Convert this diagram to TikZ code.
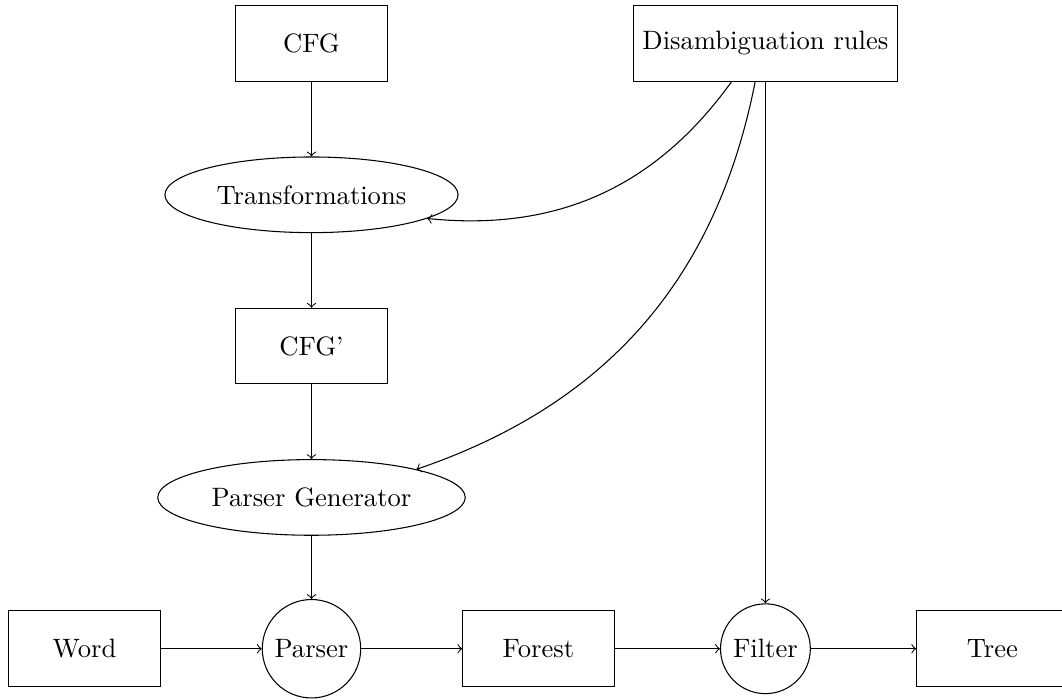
\documentclass[tikz,border=0pt]{standalone}
\usetikzlibrary{shapes.geometric}
\begin{document}
\begin{tikzpicture}[
  box/.style={draw, rectangle, minimum width=2cm, minimum height=1cm},
  proc/.style={draw, ellipse, minimum height=1cm},
  op/.style={draw, circle},
  flow/.style={->}
]
\useasboundingbox (-117.15pt,-18.92pt) rectangle (282.25pt,{8cm+16.36pt});

% main column
\node[box]  (cfg)    at (0,8) {CFG};
\node[proc] (trans)  at (0,6) {Transformations};
\node[box]  (cfgp)   at (0,4) {CFG'};
\node[proc] (pgen)   at (0,2) {Parser Generator};
\node[op]   (parser) at (0,0) {Parser};

% bottom row
\node[box] (word)   at (-3,0) {Word};
\node[box] (forest) at (3,0)  {Forest};
\node[op]  (filter) at (6,0)  {Filter};
\node[box] (tree)   at (9,0)  {Tree};

% rules
\node[box] (rules) at (6,8) {Disambiguation rules};

\draw[flow] (cfg) -- (trans);
\draw[flow] (trans) -- (cfgp);
\draw[flow] (cfgp) -- (pgen);
\draw[flow] (pgen) -- (parser);

\draw[flow] (word) -- (parser);
\draw[flow] (parser) -- (forest);
\draw[flow] (forest) -- (filter);
\draw[flow] (filter) -- (tree);

\draw[flow] (rules) to[bend left=30] (trans);
\draw[flow] (rules) to[bend left=30] (pgen);
\draw[flow] (rules) -- (filter);
\end{tikzpicture}
\end{document}
